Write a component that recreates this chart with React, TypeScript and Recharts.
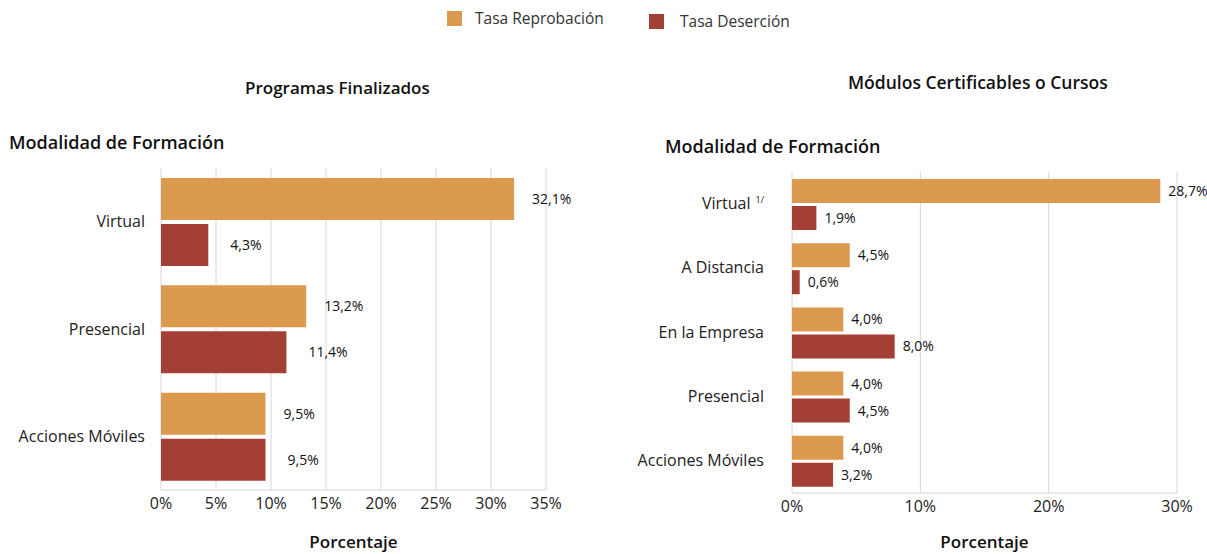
import React from "react";
import { BarChart, Bar, XAxis, YAxis, CartesianGrid, LabelList } from "recharts";

const programCategories = ["Virtual", "Presencial", "Acciones Móviles"];
const programReprobacion = [32.1, 13.2, 9.5];
const programDesercion = [4.3, 11.4, 9.5];
const programTicks = [0, 5, 10, 15, 20, 25, 30, 35];

const moduleCategories = ["Virtual", "A Distancia", "En la Empresa", "Presencial", "Acciones Móviles"];
const moduleFootnotes = ["1/", "", "", "", ""];
const moduleReprobacion = [28.7, 4.5, 4.0, 4.0, 4.0];
const moduleDesercion = [1.9, 0.6, 8.0, 4.5, 3.2];
const moduleTicks = [0, 10, 20, 30];

const ORANGE = "#DB9A4E";
const RED = "#A43F35";
const GRID = "#d6d6d6";
const FONT = "'Open Sans', Lato, sans-serif";

const programData = programCategories.map((name, i) => ({
	name,
	rep: programReprobacion[i],
	des: programDesercion[i],
}));

const moduleData = moduleCategories.map((name, i) => ({
	name,
	note: moduleFootnotes[i],
	rep: moduleReprobacion[i],
	des: moduleDesercion[i],
}));

const fmt = (v: any) => Number(v).toFixed(1).replace(".", ",") + "%";

const axisTick = { fontSize: 16, fill: "#222", fontFamily: FONT } as const;
const catTick = { fontSize: 16, fill: "#222", fontFamily: FONT } as const;
const labelStyle = { fontSize: 14, fill: "#111", fontFamily: FONT } as const;
const axisTitle = { fontSize: 17, fontWeight: 600, fill: "#111", fontFamily: FONT } as const;

const CategoryTick = (props: any) => {
	const { x, y, payload, notes } = props;
	const note = notes ? notes[payload.index] : "";
	return (
		<text x={x} y={y} dy={5} textAnchor="end" fontSize={16} fill="#222" fontFamily={FONT}>
			{payload.value}
			{note ? (
				<tspan fontSize={9} dx={5} dy={-6}>
					{note}
				</tspan>
			) : null}
		</text>
	);
};

const titleStyle: React.CSSProperties = {
	position: "absolute",
	fontFamily: FONT,
	fontWeight: 600,
	color: "#111",
	whiteSpace: "nowrap",
	lineHeight: 1,
};

const legendText: React.CSSProperties = {
	position: "absolute",
	fontSize: 15.5,
	color: "#333",
	lineHeight: 1,
	whiteSpace: "nowrap",
};

export default function App() {
	return (
		<div style={{ position: "absolute", left: 0, top: 0, width: 1207, height: 554, background: "#fff", fontFamily: FONT }}>
			{/* legend */}
			<div style={{ position: "absolute", left: 447, top: 11, width: 15, height: 15, background: ORANGE }} />
			<div style={{ ...legendText, left: 475, top: 11 }}>Tasa Reprobación</div>
			<div style={{ position: "absolute", left: 649, top: 14, width: 15, height: 15, background: RED }} />
			<div style={{ ...legendText, left: 680, top: 14 }}>Tasa Deserción</div>

			<div style={{ ...titleStyle, left: 245, top: 79, fontSize: 17 }}>Programas Finalizados</div>
			<div style={{ ...titleStyle, left: 9, top: 133, fontSize: 18 }}>Modalidad de Formación</div>
			<div style={{ ...titleStyle, left: 848, top: 74, fontSize: 17.5 }}>Módulos Certificables o Cursos</div>
			<div style={{ ...titleStyle, left: 665, top: 137, fontSize: 18 }}>Modalidad de Formación</div>

			<div style={{ position: "absolute", left: 0, top: 0 }}>
				<BarChart
					width={600}
					height={554}
					data={programData}
					layout="vertical"
					barSize={42}
					barGap={4}
					margin={{ top: 168, right: 54, left: 11, bottom: 0 }}
				>
					<CartesianGrid horizontal={false} stroke={GRID} />
					<XAxis
						type="number"
						domain={[0, 35]}
						ticks={programTicks}
						tickFormatter={(v) => v + "%"}
						tickLine={false}
						axisLine={{ stroke: GRID }}
						tick={axisTick}
						height={64}
						label={{ value: "Porcentaje", position: "insideBottom", offset: 6, style: axisTitle }}
					/>
					<XAxis xAxisId="top" orientation="top" type="number" domain={[0, 35]} height={0} tick={false} tickLine={false} axisLine={{ stroke: GRID }} />
					<YAxis type="category" dataKey="name" width={150} tickLine={false} axisLine={false} tickMargin={10} tick={catTick} />
					<Bar dataKey="rep" fill={ORANGE} isAnimationActive={false}>
						<LabelList dataKey="rep" position="right" offset={18} formatter={fmt} style={labelStyle} />
					</Bar>
					<Bar dataKey="des" fill={RED} isAnimationActive={false}>
						<LabelList dataKey="des" position="right" offset={22} formatter={fmt} style={labelStyle} />
					</Bar>
				</BarChart>
			</div>

			<div style={{ position: "absolute", left: 620, top: 0 }}>
				<BarChart
					width={587}
					height={554}
					data={moduleData}
					layout="vertical"
					barSize={24}
					barGap={3}
					margin={{ top: 172, right: 30, left: 10, bottom: 0 }}
				>
					<CartesianGrid horizontal={false} stroke={GRID} />
					<XAxis
						type="number"
						domain={[0, 30]}
						ticks={moduleTicks}
						tickFormatter={(v) => v + "%"}
						tickLine={false}
						axisLine={{ stroke: GRID }}
						tick={axisTick}
						height={61}
						label={{ value: "Porcentaje", position: "insideBottom", offset: 6, style: axisTitle }}
					/>
					<XAxis xAxisId="top" orientation="top" type="number" domain={[0, 30]} height={0} tick={false} tickLine={false} axisLine={{ stroke: GRID }} />
					<YAxis
						type="category"
						dataKey="name"
						width={162}
						tickLine={false}
						axisLine={false}
						tickMargin={22}
						tick={<CategoryTick notes={moduleFootnotes} />}
					/>
					<Bar dataKey="rep" fill={ORANGE} isAnimationActive={false}>
						<LabelList dataKey="rep" position="right" offset={8} formatter={fmt} style={labelStyle} />
					</Bar>
					<Bar dataKey="des" fill={RED} isAnimationActive={false}>
						<LabelList dataKey="des" position="right" offset={8} formatter={fmt} style={labelStyle} />
					</Bar>
				</BarChart>
			</div>
		</div>
	);
}
